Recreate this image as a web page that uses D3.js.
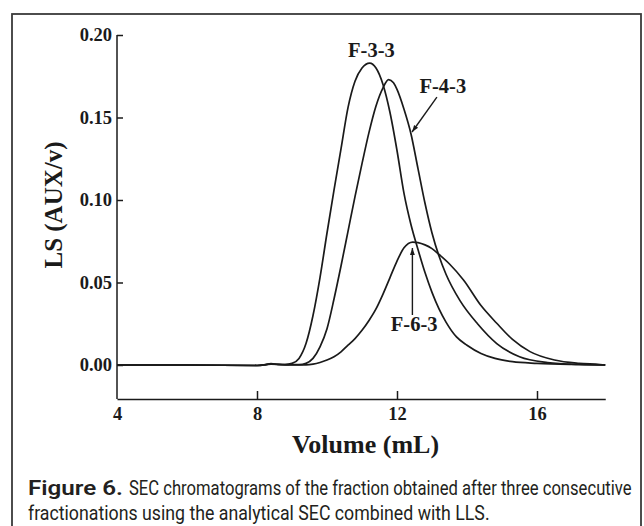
<!DOCTYPE html>
<html>
<head>
<meta charset="utf-8">
<script src="https://cdn.jsdelivr.net/npm/d3@7"></script>
<style>
  html, body { margin: 0; padding: 0; background: #fff; }
  svg { display: block; }
</style>
</head>
<body>
<svg id="chart" width="644" height="526"></svg>
<script>
// ---------------- data ----------------
const xTicks = [4, 8, 12, 16];
const yTicks = [0.00, 0.05, 0.10, 0.15, 0.20];
const xLabel = "Volume (mL)";
const yLabel = "LS (AUX/v)";

// F-3-3 : [volume mL, LS]
const f33 = [
  [4.0, 0], [6.0, 0], [8.0, -0.0003], [8.2, 0], [8.4, 0.0008], [8.6, 0.0004], [8.8, 0.0003],
  [9.0, 0.001], [9.2, 0.004], [9.4, 0.013], [9.6, 0.030], [9.8, 0.053],
  [10.0, 0.080], [10.2, 0.106], [10.4, 0.131], [10.6, 0.156], [10.8, 0.172],
  [11.0, 0.180], [11.22, 0.183], [11.4, 0.180], [11.6, 0.170], [11.8, 0.153],
  [12.0, 0.130], [12.2, 0.104], [12.4, 0.085], [12.6, 0.070], [12.8, 0.056],
  [13.0, 0.044], [13.2, 0.034], [13.4, 0.026], [13.7, 0.017], [14.0, 0.012],
  [14.4, 0.007], [14.8, 0.004], [15.3, 0.002], [16.0, 0.001], [17.0, 0.0003], [17.95, 0]
];
// F-4-3
const f43 = [
  [4.0, 0], [6.0, 0], [8.0, -0.0003], [8.4, 0.0006], [8.8, 0.0002], [9.2, 0.0002],
  [9.4, 0.001], [9.6, 0.004], [9.8, 0.011], [10.0, 0.022], [10.2, 0.040],
  [10.4, 0.060], [10.6, 0.081], [10.8, 0.102], [11.0, 0.122], [11.2, 0.141],
  [11.4, 0.157], [11.6, 0.168], [11.76, 0.173], [11.9, 0.171], [12.0, 0.167],
  [12.2, 0.155], [12.4, 0.140], [12.6, 0.119], [12.8, 0.098], [13.0, 0.080],
  [13.2, 0.066], [13.4, 0.055], [13.8, 0.039], [14.3, 0.025], [14.85, 0.013],
  [15.5, 0.005], [16.3, 0.0015], [17.2, 0.0003], [17.95, 0]
];
// F-6-3
const f63 = [
  [4.0, 0], [6.0, 0], [8.0, -0.0003], [8.4, 0.0005], [8.8, 0.0001], [9.4, 0.0001],
  [9.6, 0.0005], [9.8, 0.0015], [10.0, 0.003], [10.2, 0.005], [10.4, 0.008],
  [10.6, 0.012], [10.8, 0.016], [11.0, 0.021], [11.2, 0.027], [11.4, 0.034],
  [11.6, 0.043], [11.8, 0.053], [12.0, 0.063], [12.2, 0.071], [12.45, 0.0745],
  [12.6, 0.0742], [12.8, 0.0728], [13.0, 0.0705], [13.2, 0.0670], [13.5, 0.0612],
  [13.9, 0.0515], [14.4, 0.036], [14.85, 0.0253], [15.3, 0.0155], [15.8, 0.0081],
  [16.5, 0.003], [17.2, 0.001], [17.8, 0.0003], [17.95, 0]
];

const seriesNames = ["F-3-3", "F-4-3", "F-6-3"];
const seriesData = [f33, f43, f63];

// annotation labels (data units: volume, LS at baseline)
const labelNames = ["F-3-3", "F-4-3", "F-6-3"];
const labelX = [11.27, 13.31, 12.49];
const labelY = [0.1867, 0.1648, 0.0206];
// arrows: from -> to (data units)
const arrowFromX = [13.14, 12.44];
const arrowFromY = [0.1624, 0.0303];
const arrowToX = [12.43, 12.44];
const arrowToY = [0.1412, 0.0709];

const captionBold = "Figure 6.";
const captionLine1 = "SEC chromatograms of the fraction obtained after three consecutive";
const captionLine2 = "fractionations using the analytical SEC combined with LLS.";

// ---------------- drawing ----------------
const svg = d3.select("#chart");
const ink = "#1a1a1a";
const serif = "'Liberation Serif', 'Times New Roman', 'DejaVu Serif', serif";
const sans = "'Roboto', 'Open Sans', sans-serif";

// frame
svg.append("rect")
  .attr("x", 12).attr("y", 14)
  .attr("width", 629).attr("height", 540)
  .attr("fill", "none").attr("stroke", "#3a3a3a").attr("stroke-width", 1.8);

const x = d3.scaleLinear().domain([4, 17.95]).range([117, 605.25]);
const y = d3.scaleLinear().domain([-0.02061, 0.20]).range([399, 35]);

// y axis
const yAxis = svg.append("g")
  .attr("transform", "translate(117,0)")
  .call(d3.axisLeft(y).tickValues(yTicks).tickFormat(d3.format(".2f"))
    .tickSizeInner(-6).tickSizeOuter(0).tickPadding(5));
yAxis.select(".domain").attr("d", "M0," + y(0.20) + "V" + y.range()[0]);

// x axis
const xAxis = svg.append("g")
  .attr("transform", "translate(0,399)")
  .call(d3.axisBottom(x).tickValues(xTicks).tickFormat(d3.format("d"))
    .tickSizeInner(-8).tickSizeOuter(0).tickPadding(8));

[yAxis, xAxis].forEach(g => {
  g.selectAll("path, line").attr("stroke", ink).attr("stroke-width", 1.5);
  g.selectAll("text")
    .attr("fill", ink)
    .style("font-family", serif)
    .style("font-weight", "bold")
    .style("font-size", "18.5px");
});
xAxis.select(".tick line").filter(d => d === 4).attr("opacity", 0);

// axis titles
svg.append("text")
  .attr("x", x(11.1)).attr("y", 453)
  .attr("text-anchor", "middle")
  .style("font-family", serif).style("font-weight", "bold").style("font-size", "26px")
  .attr("fill", ink)
  .text(xLabel);

svg.append("text")
  .attr("transform", "translate(62,205) rotate(-90)")
  .attr("text-anchor", "middle")
  .style("font-family", serif).style("font-weight", "bold").style("font-size", "25px")
  .attr("fill", ink)
  .text(yLabel);

// curves
const line = d3.line()
  .x(d => x(d[0]))
  .y(d => y(d[1]))
  .curve(d3.curveMonotoneX);

svg.append("g").selectAll("path")
  .data(seriesData)
  .join("path")
  .attr("d", line)
  .attr("fill", "none")
  .attr("stroke", ink)
  .attr("stroke-width", 1.7)
  .attr("stroke-linejoin", "round");

// arrowhead marker
svg.append("defs").append("marker")
  .attr("id", "arrow")
  .attr("viewBox", "0 0 10 10")
  .attr("refX", 10).attr("refY", 5)
  .attr("markerWidth", 7).attr("markerHeight", 7)
  .attr("markerUnits", "userSpaceOnUse")
  .attr("orient", "auto")
  .append("path")
  .attr("d", "M0,1.5 L10,5 L0,8.5 Z")
  .attr("fill", ink);

svg.append("g").selectAll("line")
  .data(arrowFromX.map((d, i) => i))
  .join("line")
  .attr("x1", i => x(arrowFromX[i])).attr("y1", i => y(arrowFromY[i]))
  .attr("x2", i => x(arrowToX[i])).attr("y2", i => y(arrowToY[i]))
  .attr("stroke", ink).attr("stroke-width", 1.4)
  .attr("marker-end", "url(#arrow)");

// labels
svg.append("g").selectAll("text")
  .data(labelNames)
  .join("text")
  .attr("x", (d, i) => x(labelX[i]))
  .attr("y", (d, i) => y(labelY[i]))
  .attr("text-anchor", "middle")
  .style("font-family", serif).style("font-weight", "bold").style("font-size", "20.5px")
  .attr("fill", ink)
  .text(d => d);

// caption (condensed by horizontal scaling to the reference widths)
const capColor = "#231f20";
function captionText(str, left, baseline, width, weight) {
  const t = svg.append("text")
    .attr("x", 0).attr("y", 0)
    .style("font-family", sans).style("font-weight", weight).style("font-size", "20px")
    .attr("fill", capColor)
    .text(str);
  const natural = t.node().getComputedTextLength();
  const s = width / natural;
  t.attr("transform", "translate(" + left + "," + baseline + ") scale(" + s + ",1)");
}
captionText(captionBold, 28, 495, 95, 600);
captionText(captionLine1, 129, 495, 503, 400);
captionText(captionLine2, 28, 520, 462, 400);
</script>
</body>
</html>
